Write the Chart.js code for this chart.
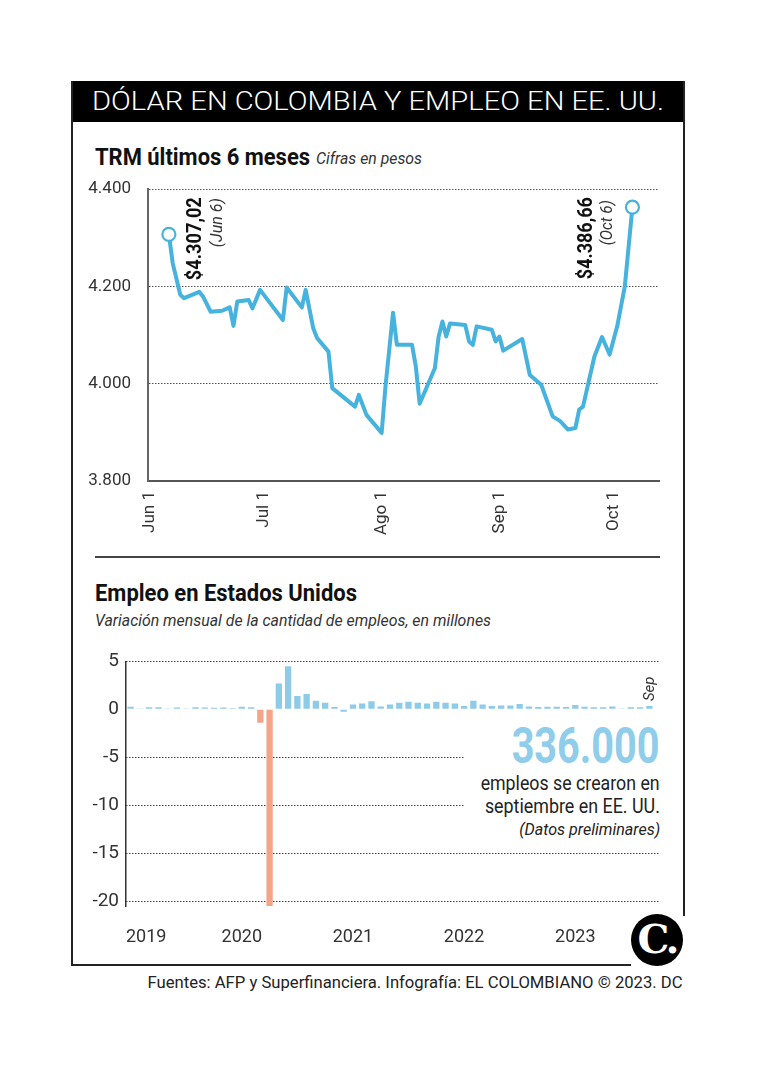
<!DOCTYPE html>
<html><head><meta charset="utf-8">
<script src="https://cdn.jsdelivr.net/npm/chart.js@4.4.0/dist/chart.umd.min.js"></script>
<style>
html,body{margin:0;padding:0;background:#fff;}
body{width:758px;height:1069px;position:relative;overflow:hidden;font-family:Roboto,"Noto Sans",sans-serif;color:#1a1a1a;}
.abs{position:absolute;white-space:nowrap;line-height:1;}
.l{transform-origin:left center;}
.r{transform-origin:right center;}
canvas{position:absolute;}
</style></head><body>
<!-- frame -->
<div class="abs" style="left:71px;top:81px;width:614px;height:41px;background:#000;"></div>
<div class="abs" style="left:71px;top:81px;width:1.5px;height:885px;background:#222"></div>
<div class="abs" style="left:683px;top:81px;width:1.5px;height:835px;background:#222"></div>
<div class="abs" style="left:71px;top:964px;width:560px;height:1.5px;background:#222"></div>
<div class="abs" style="left:95px;top:556px;width:565px;height:1.5px;background:#444"></div>

<span class="abs l" data-w="572" style="left:92px;top:88px;font-size:26px;font-weight:300;color:#fff;">DÓLAR EN COLOMBIA Y EMPLEO EN EE. UU.</span>
<span class="abs l" data-w="215" style="left:95px;top:145px;font-size:24px;font-weight:700;color:#111;">TRM últimos 6 meses</span>
<span class="abs l" data-w="106" style="left:316px;top:151px;font-size:16px;font-style:italic;color:#333;">Cifras en pesos</span>

<span class="abs l" data-w="262" style="left:95px;top:582px;font-size:23px;font-weight:700;color:#111;">Empleo en Estados Unidos</span>
<span class="abs l" data-w="396" style="left:95px;top:612px;font-size:17px;font-style:italic;color:#333;">Variación mensual de la cantidad de empleos, en millones</span>

<span class="abs r" data-w="148" style="right:98px;top:721px;font-size:50px;font-weight:700;color:#8FCDEA;">336.000</span>
<span class="abs r" data-w="179" style="right:98px;top:773px;font-size:20px;color:#222;">empleos se crearon en</span>
<span class="abs r" data-w="175" style="right:98px;top:796px;font-size:20px;color:#222;">septiembre en EE. UU.</span>
<span class="abs r" data-w="141" style="right:98px;top:821px;font-size:17px;font-style:italic;color:#222;">(Datos preliminares)</span>

<div class="abs" style="left:631px;top:914px;width:52px;height:52px;border-radius:50%;background:#000;"></div>
<div class="abs" style="left:631px;top:913px;width:52px;height:52px;line-height:52px;text-align:center;color:#fff;font-family:'DejaVu Serif','Liberation Serif',serif;font-weight:700;font-size:40px;letter-spacing:-3px;">C.</div>

<span class="abs r" data-w="535" style="right:75px;top:975px;font-size:16px;color:#222;">Fuentes: AFP y Superfinanciera. Infografía: EL COLOMBIANO © 2023. DC</span>

<canvas id="trm" width="600" height="383" style="left:80px;top:162px;"></canvas>
<canvas id="emp" width="600" height="317" style="left:80px;top:643px;"></canvas>

<script>
// ---------- DATA ----------
// TRM: days counted from Jun 1, 2023 (0 = Jun 1)
const trmDays = [5,6,8,9,13,14,16,19,21,22,23,26,27,29,35,36,40,41,43,44,47,48,54,55,57,61,62,64,65,69,70,71,75,76,77,78,79,83,84,85,86,90,91,92,93,98,100,103,106,108,110,112,113,114,117,119,121,123,125,127];
const trmValues = [4307,4248,4183,4176,4189,4179,4148,4150,4157,4119,4169,4172,4155,4193,4131,4198,4157,4193,4114,4094,4066,3991,3953,3977,3936,3899,3994,4146,4080,4080,4035,3959,4032,4097,4128,4097,4124,4121,4087,4080,4118,4111,4087,4097,4068,4092,4018,3998,3933,3923,3906,3909,3947,3953,4056,4096,4060,4118,4200,4363];
const trmTickDays = [0,30,61,92,122];
const trmTickLabels = ['Jun 1','Jul 1','Ago 1','Sep 1','Oct 1'];
const trmYTicks = [3800,4000,4200,4400];
const trmFirstLabel = ['$4.307,02','(Jun 6)'];
const trmLastLabel = ['$4.386,66','(Oct 6)'];

// Empleo: monthly change, millions
const months = [
 '2019-01','2019-02','2019-03','2019-04','2019-05','2019-06','2019-07','2019-08','2019-09','2019-10','2019-11','2019-12',
 '2020-01','2020-02','2020-03','2020-04','2020-05','2020-06','2020-07','2020-08','2020-09','2020-10','2020-11','2020-12',
 '2021-01','2021-02','2021-03','2021-04','2021-05','2021-06','2021-07','2021-08','2021-09','2021-10','2021-11','2021-12',
 '2022-01','2022-02','2022-03','2022-04','2022-05','2022-06','2022-07','2022-08','2022-09','2022-10','2022-11','2022-12',
 '2023-01','2023-02','2023-03','2023-04','2023-05','2023-06','2023-07','2023-08','2023-09'];
const empValues = [
 0.28,0.05,0.22,0.22,0.10,0.20,0.10,0.22,0.20,0.18,0.20,0.12,
 0.28,0.22,-1.4,-20.5,2.7,4.5,1.4,1.6,0.9,0.7,0.25,-0.25,
 0.5,0.6,0.85,0.3,0.5,0.7,0.8,0.7,0.6,0.8,0.7,0.6,
 0.35,0.9,0.5,0.35,0.4,0.4,0.55,0.3,0.25,0.28,0.28,0.25,
 0.45,0.27,0.22,0.22,0.3,0.1,0.22,0.22,0.34];
const empYTicks = [5,0,-5,-10,-15,-20];
const empGridVals = [5,-5,-10,-15,-20];
const empLastLabel = 'Sep';

// ---------- fit HTML text widths ----------
document.querySelectorAll('[data-w]').forEach(el=>{
  const w = el.getBoundingClientRect().width;
  el.style.transform = 'scaleX(' + (parseFloat(el.dataset.w)/w) + ')';
});

Chart.defaults.font.family = 'Roboto';
Chart.defaults.color = '#333';

const BLUE_LINE = '#45B3DE';
const fmt = v => String(v).replace(/\B(?=(\d{3})+(?!\d))/g, '.');

function drawV(ctx, x, yTop, text, font, color, len) {
  ctx.save();
  ctx.font = font; ctx.fillStyle = color;
  ctx.translate(x, yTop); ctx.rotate(-Math.PI/2);
  const w = ctx.measureText(text).width;
  if (len) ctx.scale(len / w, 1);
  ctx.textAlign = 'right'; ctx.textBaseline = 'middle';
  ctx.fillText(text, 0, 0);
  ctx.restore();
}

const trmAnnot = {
  id: 'trmAnnot',
  afterDatasetsDraw(chart) {
    const ctx = chart.ctx;
    const pts = chart.getDatasetMeta(0).data;
    const f = pts[0], l = pts[pts.length-1];
    const top = chart.chartArea.top + 8;
    drawV(ctx, f.x + 27, top, trmFirstLabel[0], 'bold 20px Roboto', '#111', 83);
    drawV(ctx, f.x + 49, top + 1, trmFirstLabel[1], 'italic 16px Roboto', '#333', 49);
    drawV(ctx, l.x - 45, top, trmLastLabel[0], 'bold 20px Roboto', '#111', 82);
    drawV(ctx, l.x - 24, top + 3, trmLastLabel[1], 'italic 16px Roboto', '#333', 45);
  }
};

new Chart(document.getElementById('trm'), {
  type: 'line',
  data: { datasets: [{
    data: trmDays.map((d,i)=>({x:d, y:trmValues[i]})),
    borderColor: BLUE_LINE, borderWidth: 4, tension: 0,
    borderJoinStyle: 'round', borderCapStyle: 'round',
    pointRadius: trmValues.map((v,i)=> (i===0 || i===trmValues.length-1) ? 6.5 : 0),
    pointBackgroundColor: '#fff', pointBorderColor: BLUE_LINE, pointBorderWidth: 2.2,
    clip: false
  }]},
  options: {
    responsive: false, animation: false, devicePixelRatio: 1,
    layout: { padding: { left: 0, right: 21, top: 14, bottom: 0 } },
    plugins: { legend: { display: false }, tooltip: { enabled: false } },
    scales: {
      x: {
        type: 'linear', min: -0.5, max: 134,
        afterBuildTicks: s => { s.ticks = trmTickDays.map(v=>({value:v})); },
        afterFit: s => { s.height = 64; },
        ticks: { callback: (v)=> trmTickLabels[trmTickDays.indexOf(v)], minRotation: 90, maxRotation: 90, padding: 10, font: { size: 17 }, color: '#333' },
        grid: { color: 'transparent', drawTicks: false },
        border: { display: true, color: '#555', width: 2 }
      },
      y: {
        min: 3800, max: 4400,
        afterBuildTicks: s => { s.ticks = trmYTicks.map(v=>({value:v})); },
        afterFit: s => { s.width = 68; },
        ticks: { callback: v => fmt(v), padding: 17, font: { size: 17 }, color: '#333' },
        grid: { color: '#555', lineWidth: 1, drawTicks: false },
        border: { display: true, color: '#666', width: 2, dash: [1.5,1.5] }
      }
    }
  },
  plugins: [trmAnnot]
});

// ---------- Empleo chart ----------
const empPlug = {
  id: 'empPlug',
  beforeDatasetsDraw(chart) {
    const {ctx, chartArea, scales:{y}} = chart;
    ctx.save();
    ctx.strokeStyle = '#444'; ctx.lineWidth = 1; ctx.setLineDash([1.5,1.5]);
    empGridVals.forEach(v=>{
      const py = Math.round(y.getPixelForValue(v)) + 0.5;
      const xEnd = (v === -5 || v === -10) ? 385 : chartArea.right + 6;
      ctx.beginPath(); ctx.moveTo(chartArea.left, py); ctx.lineTo(xEnd, py); ctx.stroke();
    });
    ctx.restore();
  },
  afterDatasetsDraw(chart) {
    const {ctx, chartArea, scales:{x}} = chart;
    ctx.save();
    ctx.font = '18px Roboto'; ctx.fillStyle = '#333'; ctx.textBaseline = 'middle';
    months.forEach((m,i)=>{
      if (m.slice(5) !== '01') return;
      const yr = m.slice(0,4);
      if (i === 0) { ctx.textAlign = 'left'; ctx.fillText(yr, chartArea.left, chartArea.bottom + 31); }
      else { ctx.textAlign = 'center'; ctx.fillText(yr, x.getPixelForValue(i), chartArea.bottom + 31); }
    });
    ctx.restore();
    const bars = chart.getDatasetMeta(0).data;
    const lb = bars[bars.length-1];
    ctx.save();
    ctx.font = 'italic 15px Roboto'; ctx.fillStyle = '#333';
    ctx.translate(lb.x + 1, lb.y - 5); ctx.rotate(-Math.PI/2);
    ctx.textAlign = 'left'; ctx.textBaseline = 'middle';
    ctx.fillText(empLastLabel, 0, 0);
    ctx.restore();
  }
};

new Chart(document.getElementById('emp'), {
  type: 'bar',
  data: { labels: months, datasets: [{
    data: empValues,
    backgroundColor: empValues.map(v => v < -1 ? '#F4A487' : '#8DCBE9'),
    barPercentage: 0.68, categoryPercentage: 1
  }]},
  options: {
    responsive: false, animation: false, devicePixelRatio: 1,
    layout: { padding: { left: 0, right: 26, top: 13, bottom: 54 } },
    plugins: { legend: { display: false }, tooltip: { enabled: false } },
    scales: {
      x: { ticks: { display: false }, grid: { display: false, drawTicks: false }, border: { display: false } },
      y: {
        min: -20.5, max: 5,
        afterBuildTicks: s => { s.ticks = empYTicks.map(v=>({value:v})); },
        afterFit: s => { s.width = 46; },
        ticks: { padding: 7, font: { size: 19 }, color: '#333' },
        grid: { color: 'transparent', drawTicks: false },
        border: { display: true, color: '#333', width: 1.5 }
      }
    }
  },
  plugins: [empPlug]
});
</script>
</body></html>
